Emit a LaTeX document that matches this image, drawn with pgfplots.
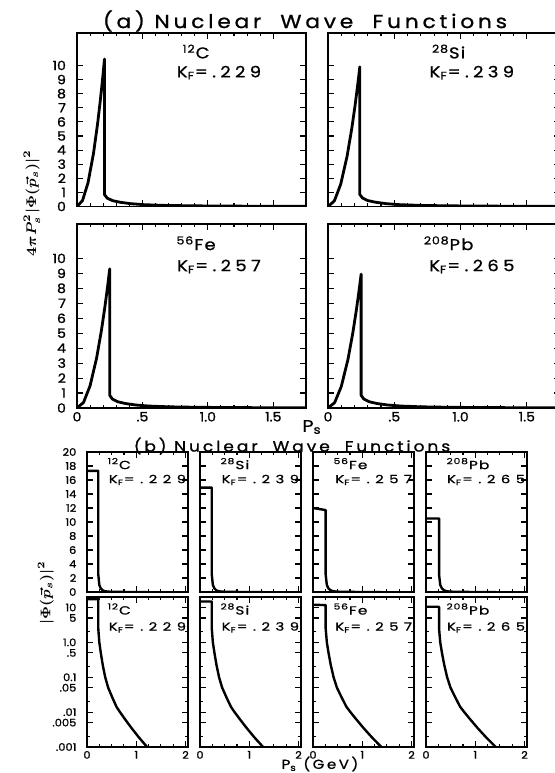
\documentclass[border=0pt]{standalone}
\usepackage{fontspec}
\setmainfont{Poppins}
\newfontfamily\labf{Poppins}[LetterSpace=20, FakeStretch=1.15, FakeBold=1]
\newfontfamily\laba{Poppins}[LetterSpace=28, FakeStretch=1.15, FakeBold=1]
\newfontfamily\labn{Poppins}[LetterSpace=8, FakeStretch=1.15, FakeBold=1]
\newfontfamily\labfb{Poppins}[LetterSpace=48, FakeStretch=1.3, FakeBold=0.8]
\newfontfamily\labnb{Poppins}[LetterSpace=10, FakeStretch=1.3, FakeBold=0.8]
\newfontfamily\tickf{Poppins}[FakeStretch=1.1, FakeBold=1.2]
\usepackage{pgfplots}
\pgfplotsset{compat=1.18}
\usepackage{pgfplotstable}

% ---------- (a) 4 pi p^2 |Phi|^2 ----------
\pgfplotstableread{
p v
0 0
0.042 0.418
0.084 1.672
0.126 3.762
0.1575 5.878
0.1785 7.55
0.191 8.64
0.2005 9.52
0.21 10.45
0.21 0.85
0.23 0.6
0.27 0.42
0.33 0.3
0.41 0.2
0.51 0.13
0.66 0.08
0.86 0.05
1.11 0.03
1.39 0.02
1.75 0.012
}\aC
\pgfplotstableread{
p v
0 0
0.048 0.396
0.096 1.584
0.144 3.564
0.18 5.569
0.204 7.153
0.218 8.169
0.229 9.013
0.24 9.9
0.24 0.85
0.26 0.6
0.30 0.42
0.36 0.3
0.44 0.2
0.54 0.13
0.69 0.08
0.89 0.05
1.14 0.03
1.42 0.02
1.75 0.012
}\aSi
\pgfplotstableread{
p v
0 0
0.05 0.372
0.1 1.488
0.15 3.348
0.1875 5.231
0.2125 6.719
0.2275 7.701
0.2375 8.393
0.25 9.3
0.25 0.85
0.27 0.6
0.31 0.42
0.37 0.3
0.45 0.2
0.55 0.13
0.70 0.08
0.90 0.05
1.15 0.03
1.43 0.02
1.75 0.012
}\aFe
\pgfplotstableread{
p v
0 0
0.05 0.358
0.1 1.432
0.15 3.222
0.1875 5.034
0.2125 6.466
0.2275 7.411
0.2375 8.077
0.25 8.95
0.25 0.85
0.27 0.6
0.31 0.42
0.37 0.3
0.45 0.2
0.55 0.13
0.70 0.08
0.90 0.05
1.15 0.03
1.43 0.02
1.75 0.012
}\aPb

% ---------- (b) |Phi|^2 ----------
\pgfplotstableread{
p v
0 17.3
0.229 17.3
0.229 2.512
0.250 1.0
0.280 0.501
0.320 0.224
0.370 0.1
0.430 0.0501
0.520 0.0251
0.600 0.0141
0.670 0.01
0.770 0.00631
0.900 0.00355
1.050 0.00191
1.220 0.001
}\bC
\pgfplotstableread{
p v
0 14.9
0.239 14.9
0.239 2.512
0.261 1.0
0.293 0.501
0.335 0.224
0.387 0.1
0.450 0.0501
0.545 0.0251
0.629 0.0141
0.702 0.01
0.807 0.00631
0.944 0.00355
1.101 0.00191
1.280 0.001
}\bSi
\pgfplotstableread{
p v
0 12.0
0.257 11.7
0.257 2.512
0.281 1.0
0.315 0.501
0.361 0.224
0.418 0.1
0.486 0.0501
0.589 0.0251
0.680 0.0141
0.760 0.01
0.874 0.00631
1.022 0.00355
1.193 0.00191
1.387 0.001
}\bFe
\pgfplotstableread{
p v
0 10.5
0.265 10.5
0.265 2.512
0.289 1.0
0.324 0.501
0.371 0.224
0.429 0.1
0.498 0.0501
0.603 0.0251
0.695 0.0141
0.777 0.01
0.893 0.00631
1.043 0.00355
1.217 0.00191
1.415 0.001
}\bPb

\pgfplotsset{
  mycommon/.style={scale only axis, anchor=south west,
    axis line style={line width=0.6pt},
    every tick/.style={black, line width=0.55pt},
    major tick length=3pt, minor tick length=1.6pt,
    /pgf/number format/assume math mode=true},
  mypa/.style={mycommon, width=114.5pt, xmin=0, xmax=1.75, ymin=0, ymax=12.3,
    xtick={0,0.5,1,1.5}, minor x tick num=4, ytick={0,1,...,10},
    xticklabels={0,.5,1.0,1.5}, yticklabels={0,1,2,3,4,5,6,7,8,9,10},
    tick label style={font=\tickf\fontsize{6.4}{7}\selectfont},
    yticklabel style={xshift=-2pt},
    xticklabel style={yshift=1.5pt}},
  mypb/.style={mycommon, width=50.5pt, xmin=0, xmax=2.05,
    xtick={0,1,2}, minor x tick num=3, xticklabels={0,1,2},
    tick label style={font=\tickf\fontsize{5.2}{6}\selectfont},
    yticklabel style={xshift=-1.8pt},
    xticklabel style={yshift=1.5pt}},
  myblin/.style={mypb, height=70pt, ymin=0, ymax=20, ytick={0,2,...,20},
    yticklabels={0,2,4,6,8,10,12,14,16,18,20}, xticklabels={}},
  myblog/.style={mypb, height=75pt, ymin=0.001, ymax=20,
    ytick={0.001,0.005,0.01,0.05,0.1,0.5,1,5,10},
    yticklabels={.001,.005,.01,.05,0.1,.5,1.0,5,10},
    minor ytick={0.002,0.02,0.2,2}},
  curveA/.style={black, line width=1.4pt, line join=round},
  curveB/.style={black, line width=1.2pt, line join=round},
}
\newcommand{\labA}[2]{%
  \node[font=\labn\fontsize{7.8}{8}\selectfont, anchor=north, inner sep=0pt] at (rel axis cs:0.52,0.935) {#1};
  \node[font=\laba\fontsize{7.8}{8}\selectfont, anchor=south, inner sep=0pt] at (rel axis cs:0.62,0.73) {K\textsubscript{F}=#2};}
\newcommand{\labB}[2]{%
  \node[font=\labnb\fontsize{5.9}{6}\selectfont, anchor=north west, inner sep=0pt] at (rel axis cs:0.2,0.96) {#1};
  \node[font=\labfb\fontsize{5.7}{6}\selectfont, anchor=south east, inner sep=0pt] at (rel axis cs:0.985,0.76) {K\textsubscript{F}=#2};}

\begin{document}
\begin{tikzpicture}[x=1pt,y=1pt]
\useasboundingbox (0,0) rectangle (277.5,386.5);

% ===== (a) =====
\node[font=\labf\fontsize{9.45}{11}\selectfont] at (152.5,376) {(a) Nuclear\ \ Wave\ \ Functions};

\begin{axis}[mypa, at={(38.5pt,283.25pt)}, height=86.75pt, xticklabels={}]
  \addplot[curveA] table[x=p,y=v]{\aC};
  \labA{\textsuperscript{12}C}{.229}
\end{axis}
\begin{axis}[mypa, at={(164pt,283.25pt)}, width=116pt, height=86.75pt, xticklabels={}, yticklabels={}]
  \addplot[curveA] table[x=p,y=v]{\aSi};
  \labA{\textsuperscript{28}Si}{.239}
\end{axis}
\begin{axis}[mypa, at={(38.5pt,182.5pt)}, height=92pt]
  \addplot[curveA] table[x=p,y=v]{\aFe};
  \labA{\textsuperscript{56}Fe}{.257}
\end{axis}
\begin{axis}[mypa, at={(164pt,182.5pt)}, width=116pt, height=92pt, yticklabels={}]
  \addplot[curveA] table[x=p,y=v]{\aPb};
  \labA{\textsuperscript{208}Pb}{.265}
\end{axis}

\node[rotate=90, font={\fontsize{6.6}{8}\selectfont\boldmath}] at (16,285) {$4\pi P_s^2|\Phi(\vec{p}_s)|^2$};
\node[font=\labf\fontsize{8.4}{9}\selectfont] at (156,173) {P\textsubscript{s}};

% ===== (b) =====
\node[font=\labf\fontsize{7.4}{9}\selectfont] at (146,163.5) {(b) Nuclear\ \ Wave\ \ Functions};

\begin{axis}[myblin, at={(43.5pt,90.5pt)}]
  \addplot[curveB] table[x=p,y=v]{\bC};
  \labB{\textsuperscript{12}C}{.229}
\end{axis}
\begin{axis}[myblin, at={(100pt,90.5pt)}, yticklabels={}]
  \addplot[curveB] table[x=p,y=v]{\bSi};
  \labB{\textsuperscript{28}Si}{.239}
\end{axis}
\begin{axis}[myblin, at={(156.5pt,90.5pt)}, yticklabels={}]
  \addplot[curveB] table[x=p,y=v]{\bFe};
  \labB{\textsuperscript{56}Fe}{.257}
\end{axis}
\begin{axis}[myblin, at={(213pt,90.5pt)}, yticklabels={}]
  \addplot[curveB] table[x=p,y=v]{\bPb};
  \labB{\textsuperscript{208}Pb}{.265}
\end{axis}

\begin{axis}[ymode=log, myblog, at={(43.5pt,13pt)}]
  \addplot[curveB] table[x=p,y=v]{\bC};
  \labB{\textsuperscript{12}C}{.229}
\end{axis}
\begin{axis}[ymode=log, myblog, at={(100pt,13pt)}, yticklabels={}]
  \addplot[curveB] table[x=p,y=v]{\bSi};
  \labB{\textsuperscript{28}Si}{.239}
\end{axis}
\begin{axis}[ymode=log, myblog, at={(156.5pt,13pt)}, yticklabels={}]
  \addplot[curveB] table[x=p,y=v]{\bFe};
  \labB{\textsuperscript{56}Fe}{.257}
\end{axis}
\begin{axis}[ymode=log, myblog, at={(213pt,13pt)}, yticklabels={}]
  \addplot[curveB] table[x=p,y=v]{\bPb};
  \labB{\textsuperscript{208}Pb}{.265}
\end{axis}

\node[rotate=90, font={\fontsize{7}{8}\selectfont\boldmath}] at (23,90) {$|\Phi(\vec{p}_s)|^2$};
\node[font=\labf\fontsize{6.5}{8}\selectfont] at (160,4.5) {P\textsubscript{s} (GeV)};
\end{tikzpicture}
\end{document}
